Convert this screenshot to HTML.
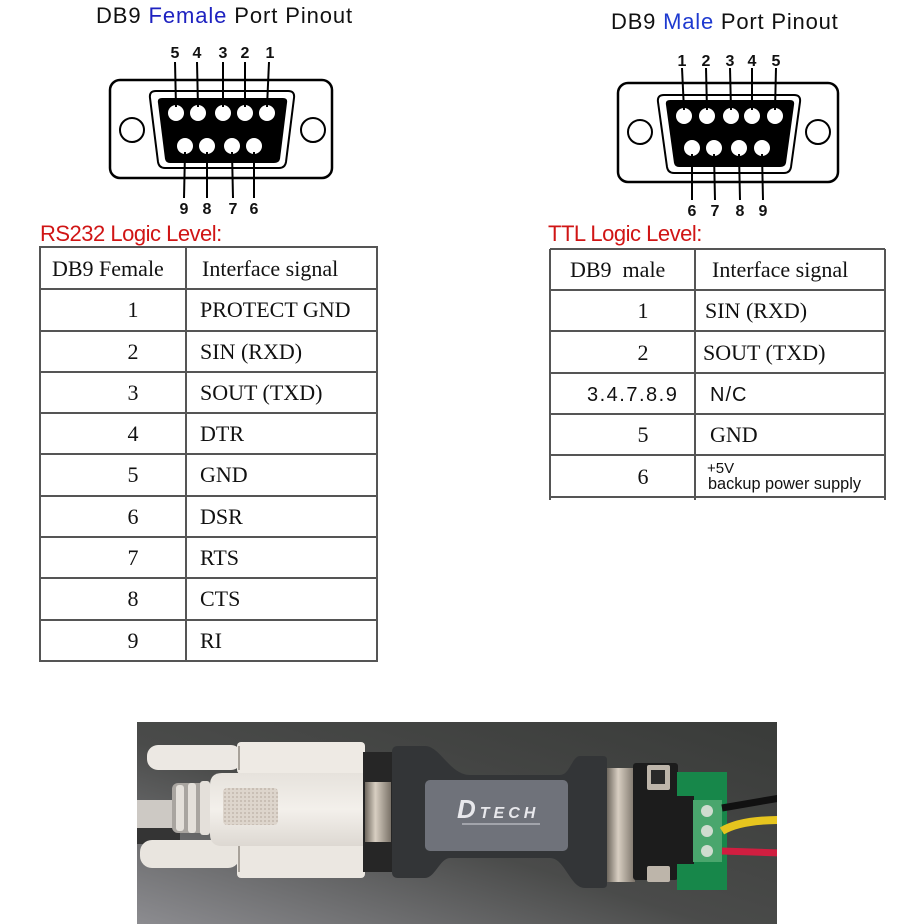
<!DOCTYPE html>
<html><head><meta charset="utf-8"><style>
html,body{margin:0;padding:0;background:#fff;}
svg{display:block;}
</style></head><body>
<svg width="924" height="924" viewBox="0 0 924 924" xmlns="http://www.w3.org/2000/svg">
<defs>
<linearGradient id="bg" x1="1" y1="0" x2="0" y2="1">
<stop offset="0" stop-color="#393b39"/><stop offset="0.55" stop-color="#4a4b4a"/><stop offset="1" stop-color="#8c8c90"/>
</linearGradient>
<linearGradient id="metal" x1="0" y1="0" x2="1" y2="0">
<stop offset="0" stop-color="#6e675e"/><stop offset="0.4" stop-color="#d8cfc2"/><stop offset="1" stop-color="#7a7268"/>
</linearGradient>
<linearGradient id="hood" x1="0" y1="0" x2="0" y2="1">
<stop offset="0" stop-color="#e6e2dc"/><stop offset="0.5" stop-color="#f3f0eb"/><stop offset="1" stop-color="#ddd8d2"/>
</linearGradient>
<pattern id="grid" width="4" height="4" patternUnits="userSpaceOnUse">
<rect width="4" height="4" fill="#ddd5cc"/><rect width="2" height="2" fill="#c9bfb5"/>
</pattern>
<clipPath id="ph"><rect x="137" y="722" width="640" height="202"/></clipPath>
</defs>

<!-- Titles -->
<text x="96" y="23" font-family="Liberation Sans, sans-serif" font-size="22" letter-spacing="0.9" fill="#111">DB9 <tspan fill="#1e22c0">Female</tspan> Port Pinout</text>
<text x="611" y="29" font-family="Liberation Sans, sans-serif" font-size="22" letter-spacing="0.8" fill="#111">DB9 <tspan fill="#1e3ad0">Male</tspan> Port Pinout</text>

<!-- Female connector -->
<g stroke="#000" fill="none">
<rect x="110" y="80" width="222" height="98" rx="10" stroke-width="2.5" fill="#fff"/>
<circle cx="132" cy="130" r="12" stroke-width="2"/>
<circle cx="313" cy="130" r="12" stroke-width="2"/>
<path d="M156,91 L288,91 Q295,91 294,98 L286,162 Q285,168 279,168 L165,168 Q159,168 158,162 L150,98 Q149,91 156,91 Z" stroke-width="2" fill="#fff"/>
</g>
<path d="M162,98 L283,98 Q288,98 287,103 L280,159 Q279,163 274,163 L170,163 Q166,163 165,159 L158,103 Q157,98 162,98 Z" fill="#000"/>
<g fill="#fff">
<circle cx="176" cy="113" r="8"/><circle cx="198" cy="113" r="8"/><circle cx="223" cy="113" r="8"/><circle cx="245" cy="113" r="8"/><circle cx="267" cy="113" r="8"/>
<circle cx="185" cy="146" r="8"/><circle cx="207" cy="146" r="8"/><circle cx="232" cy="146" r="8"/><circle cx="254" cy="146" r="8"/>
</g>
<g stroke="#000" stroke-width="2">
<line x1="175" y1="62" x2="176" y2="107"/><line x1="197" y1="62" x2="198" y2="107"/><line x1="223" y1="62" x2="223" y2="107"/><line x1="245" y1="62" x2="245" y2="107"/><line x1="269" y1="62" x2="267" y2="107"/>
<line x1="185" y1="152" x2="184" y2="198"/><line x1="207" y1="152" x2="207" y2="198"/><line x1="232" y1="152" x2="233" y2="198"/><line x1="254" y1="152" x2="254" y2="198"/>
</g>
<g font-family="Liberation Sans, sans-serif" font-size="16" font-weight="bold" text-anchor="middle" fill="#111">
<text x="175" y="58">5</text><text x="197" y="58">4</text><text x="223" y="58">3</text><text x="245" y="58">2</text><text x="270" y="58">1</text>
<text x="184" y="214">9</text><text x="207" y="214">8</text><text x="233" y="214">7</text><text x="254" y="214">6</text>
</g>

<!-- Male connector -->
<g stroke="#000" fill="none">
<rect x="618" y="83" width="220" height="99" rx="10" stroke-width="2.5" fill="#fff"/>
<circle cx="640" cy="132" r="12" stroke-width="2"/>
<circle cx="818" cy="132" r="12" stroke-width="2"/>
<path d="M664,95 L794,95 Q801,95 800,102 L791,167 Q790,173 784,173 L674,173 Q668,173 667,167 L658,102 Q657,95 664,95 Z" stroke-width="2" fill="#fff"/>
</g>
<path d="M670,100 L790,100 Q795,100 794,105 L786,163 Q785,167 780,167 L679,167 Q675,167 674,163 L666,105 Q665,100 670,100 Z" fill="#000"/>
<g fill="#fff">
<circle cx="684" cy="116" r="8"/><circle cx="707" cy="116" r="8"/><circle cx="731" cy="116" r="8"/><circle cx="752" cy="116" r="8"/><circle cx="775" cy="116" r="8"/>
<circle cx="692" cy="148" r="8"/><circle cx="714" cy="148" r="8"/><circle cx="739" cy="148" r="8"/><circle cx="762" cy="148" r="8"/>
</g>
<g stroke="#000" stroke-width="2">
<line x1="682" y1="68" x2="684" y2="110"/><line x1="706" y1="68" x2="707" y2="110"/><line x1="730" y1="68" x2="731" y2="110"/><line x1="752" y1="68" x2="752" y2="110"/><line x1="776" y1="68" x2="775" y2="110"/>
<line x1="692" y1="154" x2="692" y2="200"/><line x1="714" y1="154" x2="715" y2="200"/><line x1="739" y1="154" x2="740" y2="200"/><line x1="762" y1="154" x2="763" y2="200"/>
</g>
<g font-family="Liberation Sans, sans-serif" font-size="16" font-weight="bold" text-anchor="middle" fill="#111">
<text x="682" y="66">1</text><text x="706" y="66">2</text><text x="730" y="66">3</text><text x="752" y="66">4</text><text x="776" y="66">5</text>
<text x="692" y="216">6</text><text x="715" y="216">7</text><text x="740" y="216">8</text><text x="763" y="216">9</text>
</g>

<!-- Logic level labels -->
<text x="40" y="241" font-family="Liberation Sans, sans-serif" font-size="22" letter-spacing="-0.5" fill="#d01515">RS232 Logic Level:</text>
<text x="548" y="241" font-family="Liberation Sans, sans-serif" font-size="22" letter-spacing="-0.5" fill="#d01515">TTL Logic Level:</text>

<!-- Table 1 -->
<g stroke="#555" stroke-width="2" fill="none">
<rect x="40" y="247" width="337" height="414"/>
<line x1="186" y1="247" x2="186" y2="661"/>
<line x1="40" y1="289" x2="377" y2="289"/><line x1="40" y1="331" x2="377" y2="331"/><line x1="40" y1="372" x2="377" y2="372"/>
<line x1="40" y1="413" x2="377" y2="413"/><line x1="40" y1="454" x2="377" y2="454"/><line x1="40" y1="496" x2="377" y2="496"/>
<line x1="40" y1="537" x2="377" y2="537"/><line x1="40" y1="578" x2="377" y2="578"/><line x1="40" y1="620" x2="377" y2="620"/>
</g>
<g font-family="Liberation Serif, serif" font-size="22" fill="#111">
<text x="52" y="276">DB9 Female</text><text x="202" y="276">Interface signal</text>
<g text-anchor="middle">
<text x="133" y="317">1</text><text x="133" y="359">2</text><text x="133" y="400">3</text><text x="133" y="441">4</text><text x="133" y="482">5</text>
<text x="133" y="524">6</text><text x="133" y="565">7</text><text x="133" y="606">8</text><text x="133" y="648">9</text>
</g>
<text x="200" y="317">PROTECT GND</text><text x="200" y="359">SIN (RXD)</text><text x="200" y="400">SOUT (TXD)</text><text x="200" y="441">DTR</text>
<text x="200" y="482">GND</text><text x="200" y="524">DSR</text><text x="200" y="565">RTS</text><text x="200" y="606">CTS</text><text x="200" y="648">RI</text>
</g>

<!-- Table 2 -->
<g stroke="#555" stroke-width="2" fill="none">
<line x1="550" y1="249" x2="885" y2="249"/>
<line x1="550" y1="249" x2="550" y2="500"/><line x1="885" y1="249" x2="885" y2="500"/><line x1="695" y1="249" x2="695" y2="500"/>
<line x1="550" y1="290" x2="885" y2="290"/><line x1="550" y1="331" x2="885" y2="331"/><line x1="550" y1="373" x2="885" y2="373"/>
<line x1="550" y1="414" x2="885" y2="414"/><line x1="550" y1="455" x2="885" y2="455"/><line x1="550" y1="497" x2="885" y2="497"/>
</g>
<g font-family="Liberation Serif, serif" font-size="22" fill="#111">
<text x="570" y="277">DB9&#160; male</text><text x="712" y="277">Interface signal</text>
<g text-anchor="middle">
<text x="643" y="318">1</text><text x="643" y="360">2</text><text x="643" y="442">5</text><text x="643" y="484">6</text>
</g>
<text x="705" y="318">SIN (RXD)</text><text x="703" y="360">SOUT (TXD)</text><text x="710" y="442">GND</text>
</g>
<text x="587" y="401" font-family="Liberation Sans, sans-serif" font-size="20" letter-spacing="1.5" fill="#111">3.4.7.8.9</text>
<text x="710" y="401" font-family="Liberation Sans, sans-serif" font-size="20" letter-spacing="1" fill="#111">N/C</text>
<text x="707" y="473" font-family="Liberation Sans, sans-serif" font-size="15" fill="#111">+5V</text>
<text x="708" y="489" font-family="Liberation Sans, sans-serif" font-size="16.3" fill="#111">backup power supply</text>

<!-- Photo -->
<g clip-path="url(#ph)">
<rect x="137" y="722" width="640" height="202" fill="url(#bg)"/>
<!-- cable -->
<rect x="130" y="826" width="50" height="18" fill="#343434"/>
<rect x="130" y="800" width="50" height="28" fill="#cdc9c4"/>
<!-- ribs -->
<rect x="172" y="783" width="42" height="50" rx="6" fill="#a9a5a0"/>
<rect x="176" y="785" width="8" height="46" rx="3" fill="#e4e0da"/>
<rect x="188" y="783" width="8" height="50" rx="3" fill="#e4e0da"/>
<rect x="200" y="781" width="10" height="54" rx="3" fill="#e4e0da"/>
<!-- upper thumbscrew and base -->
<rect x="147" y="745" width="95" height="25" rx="11" fill="#ece8e3"/>
<rect x="237" y="742" width="128" height="32" rx="4" fill="#eeeae4"/>
<line x1="239" y1="746" x2="239" y2="770" stroke="#a8a29a" stroke-width="2"/>
<!-- lower thumbscrew and base -->
<rect x="140" y="840" width="100" height="28" rx="12" fill="#e9e5df"/>
<rect x="237" y="838" width="128" height="40" rx="4" fill="#ebe7e1"/>
<line x1="239" y1="842" x2="239" y2="872" stroke="#a8a29a" stroke-width="2"/>
<!-- hood -->
<path d="M222,773 L365,773 L365,846 L222,846 Q210,846 210,834 L210,785 Q210,773 222,773 Z" fill="url(#hood)"/>
<rect x="223" y="788" width="55" height="37" rx="4" fill="url(#grid)"/>
<!-- metal shell left -->
<rect x="363" y="752" width="30" height="120" fill="#262626"/>
<rect x="365" y="782" width="26" height="60" fill="url(#metal)"/>
<!-- adapter -->
<path d="M392,752 Q392,746 398,746 L425,746 C440,746 450,775 470,775 L560,775 C570,775 572,756 580,756 L603,756 Q607,756 607,760 L607,884 Q607,888 603,888 L585,888 C570,888 565,858 550,858 L450,858 C440,858 435,878 425,878 L398,878 Q392,878 392,872 Z" fill="#333537"/>
<rect x="425" y="780" width="143" height="71" rx="5" fill="#6f727a"/>
<text x="457" y="818" font-family="Liberation Sans, sans-serif" font-weight="bold" font-style="italic" font-size="16" letter-spacing="4" fill="#e8e8ec"><tspan font-size="26">D</tspan>TECH</text>
<rect x="462" y="823" width="78" height="2" fill="#b8b9c0" opacity="0.7"/>
<!-- right metal -->
<rect x="607" y="768" width="28" height="114" fill="url(#metal)"/>
<rect x="633" y="763" width="45" height="117" rx="3" fill="#1c1c1c"/>
<!-- PCB -->
<rect x="677" y="772" width="50" height="118" fill="#17874a"/>
<rect x="660" y="796" width="34" height="68" fill="#1c1c1c"/>
<rect x="647" y="765" width="23" height="25" rx="2" fill="#bdb5aa"/>
<rect x="651" y="770" width="14" height="14" fill="#2a2a2a"/>
<rect x="647" y="866" width="23" height="16" rx="2" fill="#bdb5aa"/>
<rect x="693" y="800" width="29" height="62" fill="#4aa66d"/>
<circle cx="707" cy="811" r="6" fill="#cfdccf"/>
<circle cx="707" cy="831" r="6" fill="#cfdccf"/>
<circle cx="707" cy="851" r="6" fill="#cfdccf"/>
<!-- wires -->
<path d="M722,808 L780,798" stroke="#111" stroke-width="7" fill="none"/>
<path d="M722,831 Q740,820 780,820" stroke="#e6c51e" stroke-width="8" fill="none"/>
<path d="M722,851 L780,853" stroke="#d01e40" stroke-width="7" fill="none"/>
</g>
</svg>
</body></html>
